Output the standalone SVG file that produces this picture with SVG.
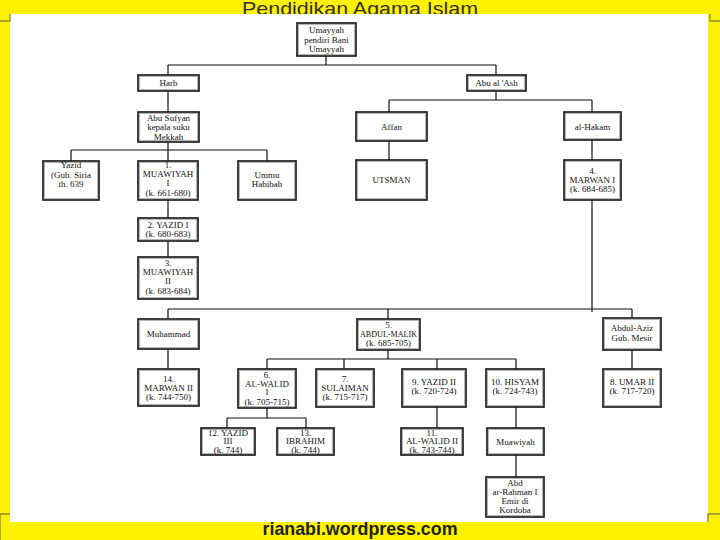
<svg xmlns="http://www.w3.org/2000/svg" width="720" height="540" viewBox="0 0 720 540">
<style>
.b{fill:#fff;stroke:#111;stroke-width:1.6}
.i{fill:none;stroke:#b4b4b4;stroke-width:1}
.t{font-family:"Liberation Serif","Times New Roman",serif;font-size:9px;fill:#111;text-anchor:middle}
.c{fill:none;stroke:#111;stroke-width:1.2}
.e{fill:none;stroke:#8c8c3c;stroke-width:1.4}
</style>
<rect x="0" y="0" width="720" height="540" fill="#fff200"/>
<text x="360" y="14.5" font-family="Liberation Sans, Arial, sans-serif" font-size="19" fill="#333" text-anchor="middle" textLength="236" lengthAdjust="spacingAndGlyphs">Pendidikan Agama Islam</text>
<rect x="10" y="14" width="698" height="508" fill="#fff"/>
<path class="e" d="M0 21H10V14M710 14V21H720M0 540V514H10M708 522V514H720"/>
<text x="360" y="535" font-family="Liberation Sans, Arial, sans-serif" font-size="19" font-weight="bold" fill="#222" text-anchor="middle" textLength="195" lengthAdjust="spacingAndGlyphs">rianabi.wordpress.com</text>

<g id="connectors">
<path class="c" d="M326 56V65M168 65H496M168 65V75M496 65V75"/>
<path class="c" d="M168 91V112M496 91V100M389 100H592M389 100V112M592 100V112"/>
<path class="c" d="M168 142V150M71 150H267M71 150V161M168 150V161M267 150V161"/>
<path class="c" d="M168 200V218M168 241V257"/>
<path class="c" d="M389 141V160M592 140V160"/>
<path class="c" d="M592 200V312M168 309H632M168 309V319M388 309V319M632 309V318"/>
<path class="c" d="M168 349V369M632 350V369M388 350V359M267 359H516M267 359V369M344 359V369M437 359V369M516 359V369"/>
<path class="c" d="M267 408V418M227 418H306M227 418V428M306 418V428M437 407V428M516 407V428M516 455V477"/>
</g>

<g id="umayyah"><rect class="b" x="297" y="23" width="59" height="33"/><rect class="i" x="298.5" y="24.5" width="56" height="30"/><text class="t"><tspan x="326.5" y="33">Umayyah</tspan><tspan x="326.5" y="42.5">pendiri Bani</tspan><tspan x="326.5" y="52">Umayyah</tspan></text></g>
<g id="harb"><rect class="b" x="138" y="75" width="61" height="16"/><rect class="i" x="139.5" y="76.5" width="58" height="13"/><text class="t" x="168.5" y="86">Harb</text></g>
<g id="abualash"><rect class="b" x="467" y="75" width="59" height="16"/><rect class="i" x="468.5" y="76.5" width="56" height="13"/><text class="t" x="496.5" y="86">Abu al 'Ash</text></g>
<g id="abusufyan"><rect class="b" x="138" y="112" width="61" height="30"/><rect class="i" x="139.5" y="113.5" width="58" height="27"/><text class="t"><tspan x="168.5" y="120.5">Abu Sufyan</tspan><tspan x="168.5" y="130">kepala suku</tspan><tspan x="168.5" y="139.5">Mekkah</tspan></text></g>
<g id="affan"><rect class="b" x="356" y="112" width="71" height="29"/><rect class="i" x="357.5" y="113.5" width="68" height="26"/><text class="t" x="391.5" y="130">Affan</text></g>
<g id="alhakam"><rect class="b" x="564" y="112" width="57" height="28"/><rect class="i" x="565.5" y="113.5" width="54" height="25"/><text class="t" x="592.5" y="129.5">al-Hakam</text></g>
<g id="yazid"><rect class="b" x="43" y="161" width="56" height="39"/><rect class="i" x="44.5" y="162.5" width="53" height="36"/><text class="t"><tspan x="71" y="168">Yazid</tspan><tspan x="71" y="177.5">(Gub. Siria</tspan><tspan x="71" y="187">th. 639</tspan></text></g>
<g id="muawiyah1"><rect class="b" x="138" y="161" width="60" height="39"/><rect class="i" x="139.5" y="162.5" width="57" height="36"/><text class="t"><tspan x="168" y="168">1.</tspan><tspan x="168" y="177">MUAWIYAH</tspan><tspan x="168" y="186">I</tspan><tspan x="168" y="196">(k. 661-680)</tspan></text></g>
<g id="ummuhabibah"><rect class="b" x="238" y="161" width="58" height="39"/><rect class="i" x="239.5" y="162.5" width="55" height="36"/><text class="t"><tspan x="267" y="177.5">Ummu</tspan><tspan x="267" y="187">Habibah</tspan></text></g>
<g id="yazid1"><rect class="b" x="138" y="218" width="60" height="23"/><rect class="i" x="139.5" y="219.5" width="57" height="20"/><text class="t"><tspan x="168" y="227.5">2. YAZID I</tspan><tspan x="168" y="237">(k. 680-683)</tspan></text></g>
<g id="muawiyah2"><rect class="b" x="138" y="257" width="60" height="42"/><rect class="i" x="139.5" y="258.5" width="57" height="39"/><text class="t"><tspan x="168" y="266">3.</tspan><tspan x="168" y="275">MUAWIYAH</tspan><tspan x="168" y="284">II</tspan><tspan x="168" y="294">(k. 683-684)</tspan></text></g>
<g id="utsman"><rect class="b" x="356" y="160" width="71" height="40"/><rect class="i" x="357.5" y="161.5" width="68" height="37"/><text class="t" x="391.5" y="183">UTSMAN</text></g>
<g id="marwan1"><rect class="b" x="564" y="160" width="57" height="40"/><rect class="i" x="565.5" y="161.5" width="54" height="37"/><text class="t"><tspan x="592.5" y="174">4.</tspan><tspan x="592.5" y="183">MARWAN I</tspan><tspan x="592.5" y="192">(k. 684-685)</tspan></text></g>
<g id="muhammad"><rect class="b" x="138" y="319" width="61" height="30"/><rect class="i" x="139.5" y="320.5" width="58" height="27"/><text class="t" x="168.5" y="337">Muhammad</text></g>
<g id="abdulmalik"><rect class="b" x="357" y="319" width="63" height="31"/><rect class="i" x="358.5" y="320.5" width="60" height="28"/><text class="t"><tspan x="388.5" y="327.5">5.</tspan><tspan x="388.5" y="336.5" textLength="57" lengthAdjust="spacingAndGlyphs">ABDUL-MALIK</tspan><tspan x="388.5" y="346">(k. 685-705)</tspan></text></g>
<g id="abdulaziz"><rect class="b" x="603" y="318" width="58" height="32"/><rect class="i" x="604.5" y="319.5" width="55" height="29"/><text class="t"><tspan x="632" y="331">Abdul-Aziz</tspan><tspan x="632" y="341">Gub. Mesir</tspan></text></g>
<g id="marwan2"><rect class="b" x="138" y="369" width="61" height="37"/><rect class="i" x="139.5" y="370.5" width="58" height="34"/><text class="t"><tspan x="168.5" y="382">14.</tspan><tspan x="168.5" y="391">MARWAN II</tspan><tspan x="168.5" y="400">(k. 744-750)</tspan></text></g>
<g id="alwalid1"><rect class="b" x="238" y="369" width="58" height="39"/><rect class="i" x="239.5" y="370.5" width="55" height="36"/><text class="t"><tspan x="267" y="378">6.</tspan><tspan x="267" y="386.5">AL-WALID</tspan><tspan x="267" y="395">I</tspan><tspan x="267" y="404.5">(k. 705-715)</tspan></text></g>
<g id="sulaiman"><rect class="b" x="316" y="369" width="58" height="38"/><rect class="i" x="317.5" y="370.5" width="55" height="35"/><text class="t"><tspan x="345" y="382">7.</tspan><tspan x="345" y="391">SULAIMAN</tspan><tspan x="345" y="400">(k. 715-717)</tspan></text></g>
<g id="yazid2"><rect class="b" x="402" y="369" width="64" height="38"/><rect class="i" x="403.5" y="370.5" width="61" height="35"/><text class="t"><tspan x="434" y="385">9. YAZID II</tspan><tspan x="434" y="394">(k. 720-724)</tspan></text></g>
<g id="hisyam"><rect class="b" x="486" y="369" width="58" height="38"/><rect class="i" x="487.5" y="370.5" width="55" height="35"/><text class="t"><tspan x="515" y="385">10. HISYAM</tspan><tspan x="515" y="394">(k. 724-743)</tspan></text></g>
<g id="umar2"><rect class="b" x="603" y="369" width="58" height="38"/><rect class="i" x="604.5" y="370.5" width="55" height="35"/><text class="t"><tspan x="632" y="385">8. UMAR II</tspan><tspan x="632" y="394">(k. 717-720)</tspan></text></g>
<g id="yazid3"><rect class="b" x="201" y="428" width="54" height="27"/><rect class="i" x="202.5" y="429.5" width="51" height="24"/><text class="t"><tspan x="228" y="435.5">12. YAZID</tspan><tspan x="228" y="444">III</tspan><tspan x="228" y="452.5">(k. 744)</tspan></text></g>
<g id="ibrahim"><rect class="b" x="277" y="428" width="57" height="27"/><rect class="i" x="278.5" y="429.5" width="54" height="24"/><text class="t"><tspan x="305.5" y="435.5">13.</tspan><tspan x="305.5" y="444">IBRAHIM</tspan><tspan x="305.5" y="452.5">(k. 744)</tspan></text></g>
<g id="alwalid2"><rect class="b" x="401" y="428" width="62" height="27"/><rect class="i" x="402.5" y="429.5" width="59" height="24"/><text class="t"><tspan x="432" y="435.5">11.</tspan><tspan x="432" y="444">AL-WALID II</tspan><tspan x="432" y="452.5">(k. 743-744)</tspan></text></g>
<g id="muawiyah"><rect class="b" x="487" y="428" width="57" height="27"/><rect class="i" x="488.5" y="429.5" width="54" height="24"/><text class="t" x="515.5" y="444.5">Muawiyah</text></g>
<g id="abdarrahman"><rect class="b" x="486" y="477" width="58" height="40"/><rect class="i" x="487.5" y="478.5" width="55" height="37"/><text class="t"><tspan x="515" y="485.5">Abd</tspan><tspan x="515" y="494.5">ar-Rahman I</tspan><tspan x="515" y="503.5">Emir di</tspan><tspan x="515" y="512.5">Kordoba</tspan></text></g>
</svg>
